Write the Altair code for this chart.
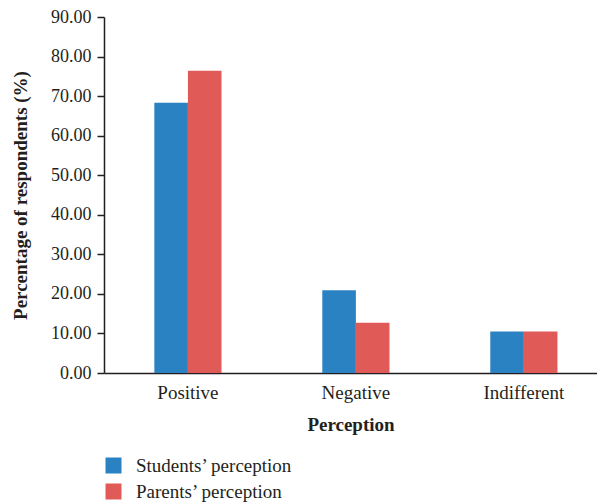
import altair as alt
import pandas as pd

categories = ["Positive", "Negative", "Indifferent"]
series = ["Students’ perception", "Parents’ perception"]
students = [68.3, 20.9, 10.5]
parents = [76.4, 12.7, 10.5]
colors = ["#2B82C3", "#E05A57"]

rows = []
for c, s, p in zip(categories, students, parents):
    rows.append({"Perception": c, "Group": series[0], "Value": s})
    rows.append({"Perception": c, "Group": series[1], "Value": p})
df = pd.DataFrame(rows)

FONT = "Liberation Serif"
TXT = "#231f20"

chart = alt.Chart(df).mark_bar().encode(
    x=alt.X("Perception:N", sort=categories,
            scale=alt.Scale(paddingInner=0.6, paddingOuter=0.2675, align=0.56),
            axis=alt.Axis(title="Perception", labelAngle=0, ticks=False,
                          labelFontSize=19, titleFontSize=19,
                          labelPadding=10, titlePadding=13)),
    xOffset=alt.XOffset("Group:N", sort=series),
    y=alt.Y("Value:Q", scale=alt.Scale(domain=[0, 90], nice=False),
            axis=alt.Axis(title="Percentage of respondents (%)", format=".2f",
                          values=list(range(0, 91, 10)), grid=False,
                          labelFontSize=18, titleFontSize=19,
                          tickSize=7, labelPadding=6, titlePadding=20)),
    color=alt.Color("Group:N", sort=series,
                    scale=alt.Scale(domain=series, range=colors),
                    legend=alt.Legend(title=None, orient="none", legendX=0, legendY=439,
                                      symbolType="square", symbolSize=256,
                                      symbolStrokeWidth=0, labelOffset=13,
                                      labelFontSize=19, labelFont=FONT, labelColor=TXT,
                                      rowPadding=6)),
).properties(
    width=493, height=356,
    autosize=alt.AutoSizeParams(type="none"),
    padding={"left": 96, "top": 9, "right": 0, "bottom": 130},
).configure_axis(
    labelFont=FONT, titleFont=FONT,
    labelColor=TXT, titleColor=TXT, domainColor=TXT, tickColor=TXT,
    domainWidth=1.5, tickWidth=1.5, titleFontWeight="bold",
).configure_view(stroke=None)

chart.save("out.html", embed_options={"renderer": "svg", "actions": False})
